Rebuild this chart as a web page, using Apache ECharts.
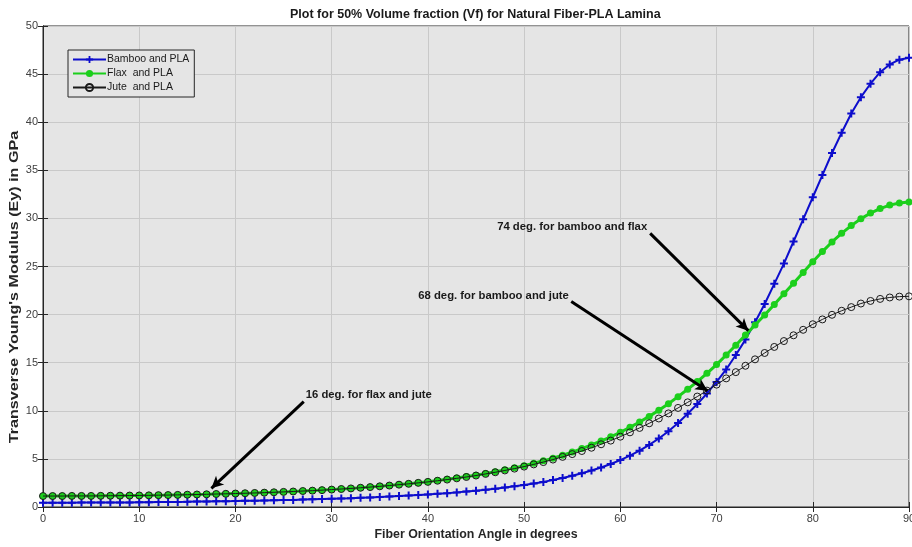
<!DOCTYPE html>
<html>
<head>
<meta charset="utf-8">
<script src="https://cdn.jsdelivr.net/npm/echarts@6/dist/echarts.min.js"></script>
<style>
html,body{margin:0;padding:0;background:#fff;}
#chart{width:912px;height:547px;}
</style>
</head>
<body>
<div id="chart"></div>
<script>
var angles = [0,1,2,3,4,5,6,7,8,9,10,11,12,13,14,15,16,17,18,19,20,21,22,23,24,25,26,27,28,29,30,31,32,33,34,35,36,37,38,39,40,41,42,43,44,45,46,47,48,49,50,51,52,53,54,55,56,57,58,59,60,61,62,63,64,65,66,67,68,69,70,71,72,73,74,75,76,77,78,79,80,81,82,83,84,85,86,87,88,89,90];

var bamboo = [0.45,0.45,0.45,0.45,0.46,0.46,0.46,0.47,0.47,0.48,
  0.49,0.50,0.51,0.52,0.53,0.54,0.56,0.57,0.59,0.61,
  0.62,0.64,0.66,0.68,0.70,0.72,0.74,0.77,0.80,0.83,
  0.86,0.89,0.92,0.96,1.00,1.04,1.09,1.14,1.19,1.25,
  1.31,1.37,1.44,1.52,1.60,1.69,1.79,1.90,2.02,2.15,
  2.29,2.44,2.61,2.80,3.01,3.24,3.50,3.79,4.11,4.47,
  4.88,5.34,5.86,6.45,7.12,7.88,8.74,9.70,10.7,11.8,
  13.0,14.3,15.8,17.4,19.2,21.1,23.2,25.3,27.6,29.9,
  32.2,34.5,36.8,38.9,40.9,42.6,44.0,45.2,46.0,46.5,46.7];

var flax = [1.14,1.14,1.14,1.15,1.15,1.15,1.16,1.17,1.18,1.19,
  1.20,1.21,1.23,1.24,1.26,1.28,1.30,1.32,1.35,1.37,
  1.40,1.43,1.46,1.50,1.53,1.57,1.61,1.66,1.71,1.76,
  1.81,1.87,1.93,2.00,2.08,2.15,2.24,2.33,2.42,2.53,
  2.63,2.75,2.88,3.01,3.16,3.31,3.48,3.66,3.86,4.07,
  4.29,4.54,4.80,5.08,5.38,5.71,6.07,6.45,6.86,7.30,
  7.77,8.28,8.83,9.42,10.06,10.74,11.47,12.24,13.04,13.90,
  14.80,15.80,16.82,17.87,18.92,19.96,21.06,22.16,23.25,24.38,
  25.50,26.55,27.55,28.45,29.25,29.97,30.55,31.02,31.38,31.60,31.70];

var jute = [1.14,1.14,1.14,1.15,1.15,1.15,1.16,1.17,1.18,1.19,
  1.20,1.21,1.23,1.24,1.26,1.28,1.30,1.32,1.35,1.37,
  1.40,1.43,1.46,1.49,1.53,1.57,1.61,1.66,1.70,1.75,
  1.81,1.87,1.93,2.00,2.07,2.15,2.23,2.32,2.41,2.51,
  2.61,2.73,2.85,2.98,3.12,3.27,3.44,3.61,3.80,3.99,
  4.20,4.43,4.67,4.93,5.21,5.50,5.82,6.16,6.52,6.90,
  7.31,7.76,8.22,8.70,9.20,9.73,10.30,10.88,11.48,12.10,
  12.72,13.37,14.02,14.68,15.35,16.01,16.64,17.25,17.85,18.42,
  19.00,19.50,19.98,20.40,20.78,21.15,21.42,21.63,21.78,21.87,21.90];

var seriesNames = ['Bamboo and PLA', 'Flax  and PLA', 'Jute  and PLA'];
var annoTexts = ['16 deg. for flax and jute', '68 deg. for bamboo and jute', '74 deg. for bamboo and flax'];
var annoTextPos = [[27.3, 11.64], [39.0, 21.93], [47.2, 29.1]];
var arrowFrom = [[27.1, 10.95], [54.9, 21.35], [63.1, 28.45]];
var arrowTo = [[17.5, 1.94], [69.06, 12.09], [73.3, 18.33]];

function pairs(ys) {
  return angles.map(function (a, i) { return [a, ys[i]]; });
}

var FONT = 'Liberation Sans, Arial, Helvetica, sans-serif';
var plusPath = 'path://M3,0h2v3h3v2h-3v3h-2v-3h-3v-2h3z';

var chart = echarts.init(document.getElementById('chart'), null, {renderer: 'canvas'});

var markLineData = arrowFrom.map(function (f, i) {
  return [{coord: f, symbol: 'none'}, {coord: arrowTo[i], symbol: 'arrow'}];
});
var markPointData = annoTexts.map(function (t, i) {
  return {coord: annoTextPos[i], name: t};
});

var option = {
  animation: false,
  backgroundColor: '#ffffff',
  title: {
    text: 'Plot for 50% Volume fraction (Vf) for Natural Fiber-PLA Lamina',
    left: 290,
    top: 8,
    padding: 0,
    textStyle: {fontFamily: FONT, fontSize: 12.5, fontWeight: 'bold', color: '#1a1a1a'}
  },
  grid: {
    left: 43, right: 3, top: 26, bottom: 40,
    outerBoundsMode: 'none',
    containLabel: false,
    show: true, backgroundColor: '#e5e5e5', borderColor: '#262626', borderWidth: 1
  },
  legend: {
    orient: 'vertical',
    left: 68, top: 50,
    data: seriesNames,
    backgroundColor: '#e5e5e5',
    borderColor: '#262626', borderWidth: 1, borderRadius: 0,
    padding: [4, 5, 4, 4],
    itemGap: 3,
    itemWidth: 33, itemHeight: 9,
    textStyle: {fontFamily: FONT, fontSize: 10.5, color: '#1a1a1a', padding: [0, 0, 0, -4]}
  },
  xAxis: [{
    type: 'value', min: 0, max: 90, interval: 10,
    name: 'Fiber Orientation Angle in degrees',
    nameLocation: 'middle', nameGap: 22,
    nameTextStyle: {fontFamily: FONT, fontSize: 12.4, fontWeight: 'bold', color: '#262626'},
    axisLine: {show: true, lineStyle: {color: '#262626', width: 1}},
    axisTick: {show: true, inside: true, length: 5, lineStyle: {color: '#262626'}},
    axisLabel: {fontFamily: FONT, fontSize: 11, color: '#404040', margin: 6},
    splitLine: {show: true, lineStyle: {color: '#c9c9c9', width: 1}}
  }, {
    type: 'value', min: 0, max: 90, interval: 10, position: 'top',
    axisLine: {show: true, lineStyle: {color: '#262626', width: 1}},
    axisTick: {show: true, inside: true, length: 5, lineStyle: {color: '#262626'}},
    axisLabel: {show: false}, splitLine: {show: false}
  }],
  yAxis: [{
    type: 'value', min: 0, max: 50, interval: 5,
    axisLine: {show: true, lineStyle: {color: '#262626', width: 1}},
    axisTick: {show: true, inside: true, length: 5, lineStyle: {color: '#262626'}},
    axisLabel: {fontFamily: FONT, fontSize: 11, color: '#404040', margin: 5},
    splitLine: {show: true, lineStyle: {color: '#c9c9c9', width: 1}}
  }, {
    type: 'value', min: 0, max: 50, interval: 5, position: 'right',
    axisLine: {show: true, lineStyle: {color: '#262626', width: 1}},
    axisTick: {show: true, inside: true, length: 5, lineStyle: {color: '#262626'}},
    axisLabel: {show: false}, splitLine: {show: false}
  }],
  graphic: [{
    type: 'text',
    x: 15, y: 287, rotation: Math.PI / 2,
    scaleX: 1.3, scaleY: 1,
    style: {
      text: "Transverse Young's Modulus (Ey) in GPa",
      font: 'bold 12.4px ' + FONT,
      fill: '#262626', textAlign: 'center', textVerticalAlign: 'middle'
    }
  }],
  series: [{
    name: seriesNames[0], type: 'line',
    data: pairs(bamboo),
    symbol: plusPath, symbolSize: 8,
    itemStyle: {color: '#0d0dcc'},
    lineStyle: {color: '#0d0dcc', width: 2},
    z: 2
  }, {
    name: seriesNames[1], type: 'line',
    data: pairs(flax),
    symbol: 'circle', symbolSize: 7,
    itemStyle: {color: '#1ccf1c'},
    lineStyle: {color: '#1ccf1c', width: 3},
    z: 3
  }, {
    name: seriesNames[2], type: 'line',
    data: pairs(jute),
    symbol: 'circle', symbolSize: 7,
    itemStyle: {color: 'rgba(0,0,0,0)', borderColor: '#1a1a1a', borderWidth: 1},
    lineStyle: {color: '#1a1a1a', width: 1},
    z: 4,
    markLine: {
      silent: true, animation: false,
      symbolSize: [9, 12],
      lineStyle: {color: '#000', width: 3, type: 'solid'},
      label: {show: false},
      data: markLineData
    },
    markPoint: {
      silent: true, animation: false,
      symbol: 'circle', symbolSize: 0,
      itemStyle: {color: 'rgba(0,0,0,0)'},
      label: {
        show: true, position: 'right', distance: 0,
        formatter: '{b}',
        fontFamily: FONT, fontSize: 11.3, fontWeight: 'bold', color: '#1a1a1a'
      },
      data: markPointData
    }
  }]
};
chart.setOption(option);
</script>
</body>
</html>
